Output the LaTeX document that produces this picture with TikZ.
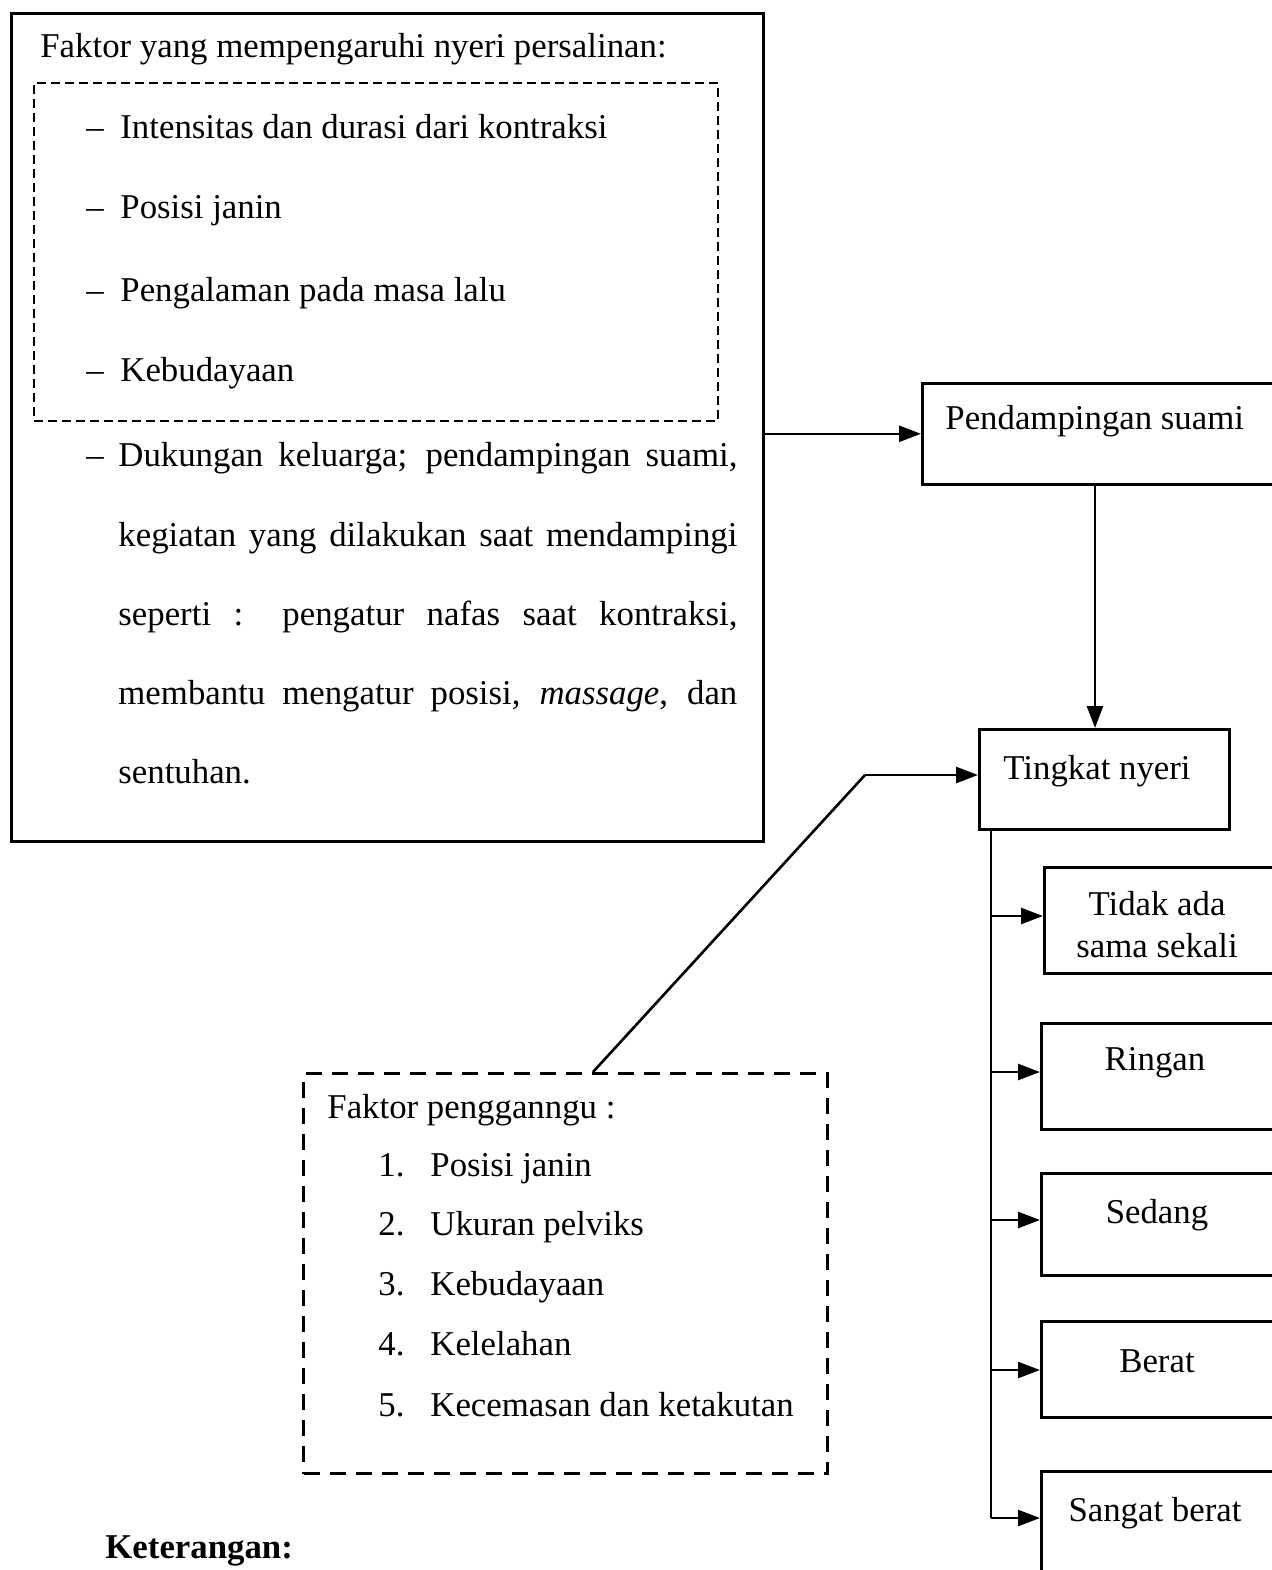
\documentclass[tikz,border=0pt]{standalone}
\usepackage{fontspec}
\setmainfont{Liberation Serif}
\usetikzlibrary{arrows.meta}
\begin{document}
\begin{tikzpicture}[x=0.5pt,y=-0.5pt,
  box/.style={draw, line width=1.3pt, rectangle, inner sep=0pt, anchor=north west},
  dbox/.style={draw, line width=1pt, dash pattern=on 4.5pt off 2.5pt, rectangle, inner sep=0pt, anchor=north west},
  dboxb/.style={draw, line width=1.5pt, dash pattern=on 8pt off 5pt, rectangle, inner sep=0pt, anchor=north west},
  txt/.style={font=\fontsize{17.4}{21}\selectfont, inner sep=0pt, anchor=mid west, yshift=-3.5pt},
  ctxt/.style={font=\fontsize{17.4}{21}\selectfont, inner sep=0pt, align=center, yshift=-3pt},
  arr/.style={line width=1.3pt, -{Triangle[length=11pt,width=8pt]}},
  ln/.style={line width=1.3pt}]
\clip (0,0) rectangle (1272,1570);
\fill[white] (0,0) rectangle (1272,1570);

% boxes
\node[box, minimum width=376pt, minimum height=414pt] (main) at (10,12) {};
\node[dbox, minimum width=342pt, minimum height=169pt] (inner) at (33,82) {};
\node[box, minimum width=184.5pt, minimum height=50.5pt] (pend) at (921,382) {};
\node[box, minimum width=125pt, minimum height=50pt] (ting) at (978,728) {};
\node[box, minimum width=123.5pt, minimum height=53pt] (tidak) at (1043,866) {};
\node[box, minimum width=125pt, minimum height=53pt] (ringan) at (1040,1022) {};
\node[box, minimum width=125pt, minimum height=51pt] (sedang) at (1040,1172) {};
\node[box, minimum width=125pt, minimum height=48pt] (berat) at (1040,1320) {};
\node[box, minimum width=125pt, minimum height=65pt] (sangat) at (1040,1470) {};
\node[dboxb, minimum width=262pt, minimum height=200pt] (peng) at (302,1072) {};

% texts top box
\node[txt] (t0) at (40,46) {Faktor yang mempengaruhi nyeri persalinan:};
\node[txt] (d1) at (86,127) {–};
\node[txt] (i1) at (120,127) {Intensitas dan durasi dari kontraksi};
\node[txt] (d2) at (86,207) {–};
\node[txt] (i2) at (120,207) {Posisi janin};
\node[txt] (d3) at (86,290) {–};
\node[txt] (i3) at (120,290) {Pengalaman pada masa lalu};
\node[txt] (d4) at (86,370) {–};
\node[txt] (i4) at (120,370) {Kebudayaan};
\node[txt] (d5) at (86,455) {–};
\node[txt] (p1) at (118,455) {\makebox[309.5pt][s]{Dukungan keluarga; pendampingan suami,}};
\node[txt] (p2) at (118,535) {\makebox[309.5pt][s]{kegiatan yang dilakukan saat mendampingi}};
\node[txt] (p3) at (118,614) {\makebox[309.5pt][s]{seperti : pengatur nafas saat kontraksi,}};
\node[txt] (p4) at (118,693) {\makebox[309.5pt][s]{membantu mengatur posisi, \textit{massage}, dan}};
\node[txt] (p5) at (118,772) {sentuhan.};

% right texts
\node[txt] (pt) at (945,418) {Pendampingan suami};
\node[ctxt] (tt) at (1097,765) {Tingkat nyeri};
\node[ctxt] (tdt) at (1157,919) {Tidak ada\\sama sekali};
\node[ctxt] (rt) at (1155,1057) {Ringan};
\node[ctxt] (st) at (1157,1209) {Sedang};
\node[ctxt] (bt) at (1157,1355) {Berat};
\node[ctxt] (sbt) at (1155,1507) {Sangat berat};

% pengganggu texts
\node[txt] (f0) at (327,1107) {Faktor pengganngu :};
\node[txt] (n1) at (378,1165) {1.};
\node[txt] (f1) at (430,1165) {Posisi janin};
\node[txt] (n2) at (378,1224) {2.};
\node[txt] (f2) at (430,1224) {Ukuran pelviks};
\node[txt] (n3) at (378,1284) {3.};
\node[txt] (f3) at (430,1284) {Kebudayaan};
\node[txt] (n4) at (378,1344) {4.};
\node[txt] (f4) at (430,1344) {Kelelahan};
\node[txt] (n5) at (378,1405) {5.};
\node[txt] (f5) at (430,1405) {Kecemasan dan ketakutan};

\node[txt, font=\fontsize{17.4}{21}\selectfont\bfseries] (ket) at (105,1547) {Keterangan:};

% connectors
\draw[arr] (main.east |- pend.west) -- (pend.west);
\coordinate (vx) at (1095,0);
\draw[arr] (pend.south -| vx) -- (ting.north -| vx);
\coordinate (dstart) at (593,1072);
\coordinate (bend) at (865,775);
\draw[ln] (dstart) -- (bend);
\draw[arr] (bend) -- (bend -| ting.west);
\coordinate (trunk) at (991,0);
\draw[ln] (ting.south -| trunk) -- (trunk |- 0,1518);
\draw[arr] (trunk |- 0,916) -- (tidak.west |- 0,916);
\draw[arr] (trunk |- 0,1072) -- (ringan.west |- 0,1072);
\draw[arr] (trunk |- 0,1220) -- (sedang.west |- 0,1220);
\draw[arr] (trunk |- 0,1370) -- (berat.west |- 0,1370);
\draw[arr] (trunk |- 0,1518) -- (sangat.west |- 0,1518);
\end{tikzpicture}
\end{document}
